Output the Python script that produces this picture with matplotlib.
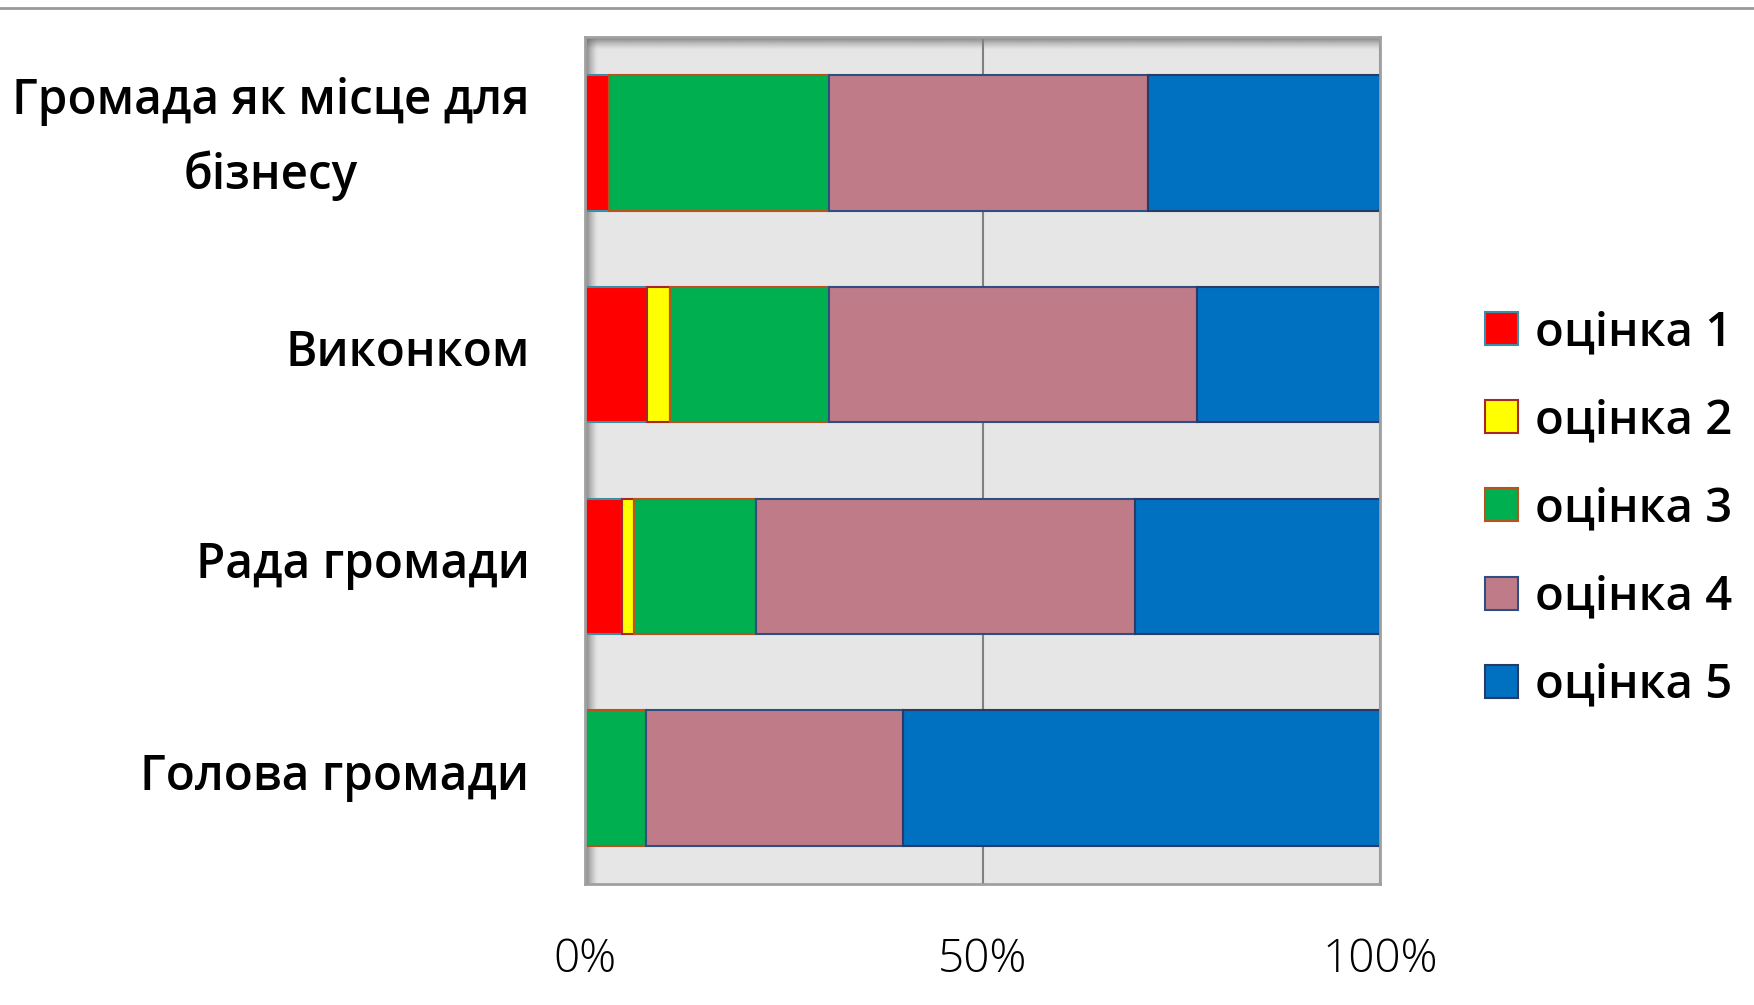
import matplotlib.pyplot as plt
import numpy as np
from matplotlib.lines import Line2D
from matplotlib.transforms import ScaledTranslation

categories = ["Громада як місце для\nбізнесу", "Виконком", "Рада громади", "Голова громади"]
series_names = ["оцінка 1", "оцінка 2", "оцінка 3", "оцінка 4", "оцінка 5"]
score1 = [3.0, 7.8, 4.7, 0.0]
score2 = [0.0, 2.9, 1.5, 0.0]
score3 = [27.7, 20.0, 15.3, 7.7]
score4 = [40.1, 46.3, 47.7, 32.3]
score5 = [29.2, 23.0, 30.8, 60.0]
series = [score1, score2, score3, score4, score5]

fill_colors = ["#FF0000", "#FFFF00", "#00B050", "#C07B89", "#0070C0"]
edge_colors = ["#3A8FA8", "#A5282A", "#B8521F", "#2F4F80", "#2B3A64"]

plt.rcParams['font.family'] = ['Open Sans', 'DejaVu Sans']

W, H = 1754, 1005
fig = plt.figure(figsize=(W / 100, H / 100), dpi=100)
ax = fig.add_axes([585 / W, 1 - 884 / H, 795 / W, 847 / H])
ax.set_facecolor("#E6E6E6")

y = np.arange(len(categories))
left = np.zeros(len(categories))
handles = []
for name, vals, fc, ec in zip(series_names, series, fill_colors, edge_colors):
    vals = np.array(vals)
    lw = [1.5 if v > 0 else 0 for v in vals]
    ax.barh(y, vals, left=left, height=0.64, color=fc, edgecolor=ec,
            linewidth=lw, zorder=3, label=name)
    left += vals
    handles.append(plt.Rectangle((0, 0), 1, 1, facecolor=fc, edgecolor=ec, linewidth=1.5))

# inner shadow on the plot area (top and left)
n = 30
alpha = np.linspace(0.85, 0.0, n) ** 1.3
top = np.zeros((n, 1, 4))
top[:, 0, :3] = 0.40
top[:, 0, 3] = alpha
ax.imshow(top, extent=(0, 1, 1 - 13 / 847, 1), transform=ax.transAxes,
          aspect='auto', zorder=1, origin='upper', interpolation='bilinear')
lft = np.zeros((1, n, 4))
lft[0, :, :3] = 0.40
lft[0, :, 3] = alpha
ax.imshow(lft, extent=(0, 13 / 795, 0, 1), transform=ax.transAxes,
          aspect='auto', zorder=1, interpolation='bilinear')

ax.set_xlim(0, 100)
ax.set_ylim(len(categories) - 0.5, -0.5)
ax.set_xticks([0, 50, 100])
ax.set_xticklabels(["0%", "50%", "100%"])
ax.set_yticks(y)
ax.set_yticklabels(categories)
ax.xaxis.grid(True, color="#808080", linewidth=1.5)
for gl in ax.get_xgridlines():
    gl.set_zorder(2)
ax.tick_params(axis='x', length=0, pad=38, labelsize=33)
ax.tick_params(axis='y', length=0, pad=40, labelsize=34.3)
for lab in ax.get_xticklabels():
    lab.set_fontweight('light')
for i, lab in enumerate(ax.get_yticklabels()):
    lab.set_fontweight('semibold')
    lab.set_multialignment('center')
    lab.set_linespacing(1.62)
    shift = 22 if i == 0 else 7
    lab.set_transform(lab.get_transform() + ScaledTranslation(0, shift / 100, fig.dpi_scale_trans))
for s in ax.spines.values():
    s.set_color("#A0A0A0")
    s.set_linewidth(2)
    s.set_zorder(4)

fig.legend(handles, series_names, loc='center left',
           bbox_to_anchor=(1485 / W, 1 - 509 / H), frameon=False,
           prop={'size': 34, 'weight': 'semibold'},
           handlelength=0.7, handleheight=0.7, handletextpad=0.36,
           labelspacing=0.87, borderpad=0, borderaxespad=0)

fig.add_artist(Line2D([0, 1], [1 - 8 / H, 1 - 8 / H], transform=fig.transFigure,
                      color="#999999", linewidth=2))

fig.savefig("out.png", dpi=100)
